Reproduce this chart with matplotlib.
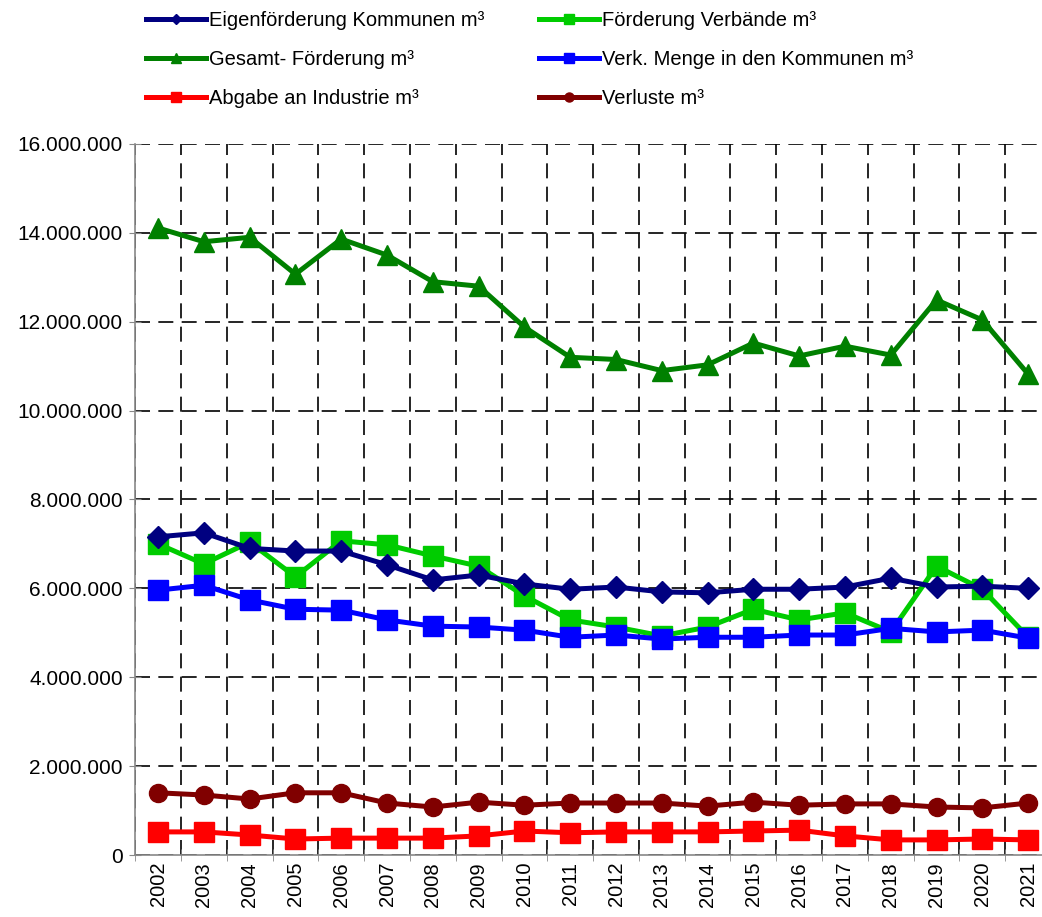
import numpy as np
import matplotlib
matplotlib.use('Agg')
import matplotlib.pyplot as plt
from matplotlib.ticker import FuncFormatter, MultipleLocator

plt.rcParams['font.family'] = ['Liberation Sans', 'DejaVu Sans']

# Jahre und Werte (m³)
years = [str(y) for y in range(2002, 2022)]

eigen = [7.16, 7.25, 6.90, 6.84, 6.84, 6.53, 6.19, 6.30, 6.10, 5.98,
         6.03, 5.92, 5.90, 5.98, 5.98, 6.03, 6.23, 6.03, 6.05, 6.00]
verbaende = [7.00, 6.55, 7.04, 6.26, 7.07, 6.98, 6.73, 6.50, 5.83, 5.29,
             5.13, 4.93, 5.13, 5.53, 5.29, 5.45, 5.02, 6.50, 5.98, 4.90]
gesamt = [14.11, 13.80, 13.90, 13.07, 13.86, 13.50, 12.90, 12.80, 11.88, 11.20,
          11.15, 10.90, 11.03, 11.52, 11.23, 11.45, 11.25, 12.49, 12.04, 10.82]
verk_menge = [5.96, 6.07, 5.74, 5.53, 5.51, 5.29, 5.15, 5.13, 5.06, 4.90,
              4.95, 4.86, 4.90, 4.90, 4.95, 4.95, 5.10, 5.02, 5.06, 4.88]
industrie = [0.52, 0.52, 0.45, 0.36, 0.38, 0.38, 0.38, 0.43, 0.54, 0.50,
             0.52, 0.52, 0.52, 0.54, 0.56, 0.43, 0.34, 0.34, 0.36, 0.34]
verluste = [1.40, 1.35, 1.26, 1.40, 1.40, 1.17, 1.08, 1.19, 1.12, 1.17,
            1.17, 1.17, 1.10, 1.19, 1.12, 1.15, 1.15, 1.08, 1.06, 1.17]

x = np.arange(len(years))
mio = 1e6
fs = 14.5

fig = plt.figure(figsize=(10.42, 9.17), dpi=100)
ax = fig.add_axes([0.1297, 0.0676, 0.879, 0.7754])

# Reihenfolge so, dass die Legende zeilenweise wie im Original steht
series = [
    ('Eigenförderung Kommunen m³', eigen, '#000080', 'D', 11),
    ('Gesamt- Förderung m³', gesamt, '#008000', '^', 15),
    ('Abgabe an Industrie m³', industrie, '#FF0000', 's', 14),
    ('Förderung Verbände m³', verbaende, '#00CC00', 's', 14),
    ('Verk. Menge in den Kommunen m³', verk_menge, '#0000FF', 's', 14),
    ('Verluste m³', verluste, '#800000', 'o', 13),
]
zorders = {'Gesamt- Förderung m³': 3, 'Förderung Verbände m³': 4,
           'Eigenförderung Kommunen m³': 5, 'Verk. Menge in den Kommunen m³': 6,
           'Verluste m³': 5, 'Abgabe an Industrie m³': 5}
handles = []
for name, vals, col, mk, ms in series:
    h, = ax.plot(x, np.array(vals) * mio, color=col, lw=3.6, marker=mk,
                 markersize=ms, label=name, zorder=zorders[name])
    handles.append(h)

ax.set_xlim(-0.5, len(years) - 0.5)
ax.set_ylim(0, 16 * mio)
ax.yaxis.set_major_locator(MultipleLocator(2 * mio))
ax.yaxis.set_major_formatter(FuncFormatter(lambda v, p: f'{int(v):,}'.replace(',', '.')))

ax.set_xticks(x)
ax.set_xticklabels(years, rotation=90)
ax.set_xticks(np.arange(-0.5, len(years), 1), minor=True)
ax.tick_params(axis='x', which='major', length=0, labelsize=fs, pad=5)
ax.tick_params(axis='x', which='minor', length=8, direction='inout', color='#888888')
ax.tick_params(axis='y', length=8, direction='inout', color='#888888', labelsize=15, pad=5)

ax.grid(False)
ax.yaxis.grid(True, color='black', lw=1.2, ls=(0, (9, 5)))
ax.xaxis.grid(True, which='minor', color='black', lw=1.2, ls=(0, (9, 5)))
ax.set_axisbelow(True)

for s in ['top', 'right']:
    ax.spines[s].set_visible(False)
for s in ['left', 'bottom']:
    ax.spines[s].set_color('#888888')
    ax.spines[s].set_linewidth(1.2)

fig.legend(handles=handles, loc='upper left', bbox_to_anchor=(0.1225, 1.008),
           ncol=2, frameon=False, fontsize=fs, handlelength=3.0,
           handletextpad=0.15, labelspacing=1.0, columnspacing=2.7,
           markerscale=0.5)

fig.savefig('out.png', dpi=100)
